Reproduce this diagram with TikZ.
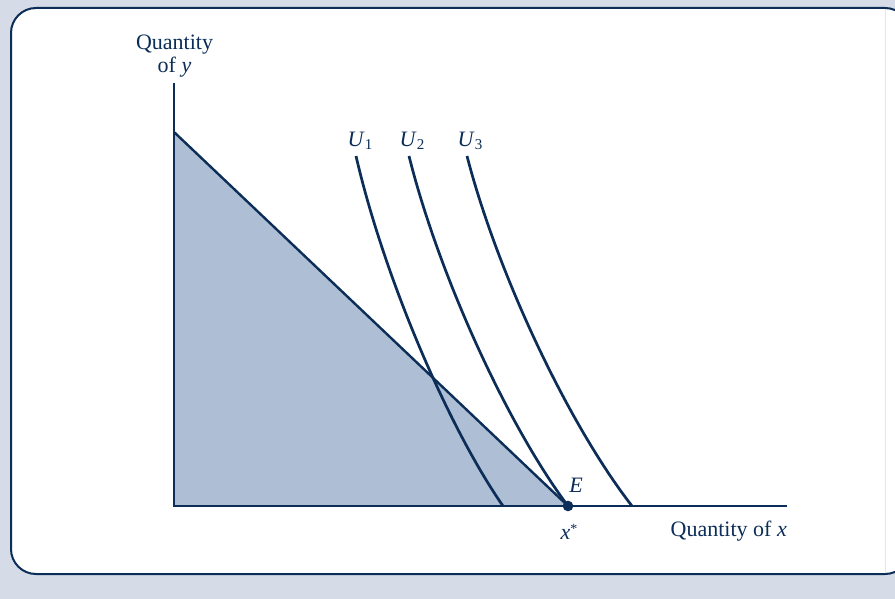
\documentclass[tikz,border=0pt]{standalone}
\usepackage{fontspec}
\setmainfont{Liberation Serif}
\definecolor{navy}{HTML}{0B2D57}
\definecolor{setfill}{HTML}{AEBED4}
\definecolor{bgc}{HTML}{D5DCE8}
\begin{document}
\begin{tikzpicture}[x=1pt,y=-1pt,
  axis/.style={draw=navy,line width=1.4pt},
  curve/.style={draw=navy,line width=2.7pt},
  budget/.style={draw=navy,line width=2.4pt},
  lab/.style={text=navy,font=\fontsize{22}{23}\selectfont,inner sep=0pt}]
\useasboundingbox (0,0) rectangle (895,599);
\fill[bgc] (0,0) rectangle (895,599);
\begin{scope}
\clip (0,0) rectangle (895,599);
\filldraw[fill=white,draw=navy,line width=2pt,rounded corners=25pt] (11,8) rectangle (910,574);
\end{scope}
\draw[gray!20,line width=0.8pt] (885,10) -- (885,572);
% coordinates
\coordinate (O) at (174,506);
\coordinate (ytop) at (174,83);
\coordinate (xend) at (787,506);
\coordinate (B) at (174,132);
\coordinate (E) at (568,506);
% shaded set
\fill[setfill] (O) -- (B) -- (E) -- cycle;
% axes
\draw[axis] (ytop) -- (O) -- (xend);
% budget line
\draw[budget] (B) -- (E);
% indifference curves
\coordinate (u1s) at (356,156); \coordinate (u1e) at (503,506);
\coordinate (u2s) at (409,156); \coordinate (u2e) at (568,506);
\coordinate (u3s) at (467,156); \coordinate (u3e) at (632,506);
\draw[curve] (u1s) .. controls (383.7,276) and (447.5,426) .. (u1e);
\draw[curve] (u2s) .. controls (439,276) and (508,426) .. (u2e);
\draw[curve] (u3s) .. controls (498.1,276) and (569.7,426) .. (u3e);
% point E
\fill[navy] (E) circle (5.3);
% labels
\node[lab,align=center] (ylab) at (174.5,56) {Quantity\\of \textit{y}};
\node[lab] (U1) at (360,141) {\textit{U}\raisebox{-0.35ex}{\fontsize{15}{15}\selectfont 1}};
\node[lab] (U2) at (412,141) {\textit{U}\raisebox{-0.35ex}{\fontsize{15}{15}\selectfont 2}};
\node[lab] (U3) at (470,141) {\textit{U}\raisebox{-0.35ex}{\fontsize{15}{15}\selectfont 3}};
\node[lab] (Elab) at (576,485) {\textit{E}};
\node[lab] (xstar) at (569,532) {\textit{x}\raisebox{0.6ex}{\fontsize{14}{14}\selectfont *}};
\node[lab,anchor=east] (xlab) at (787,531) {Quantity of \textit{x}};
\end{tikzpicture}
\end{document}
